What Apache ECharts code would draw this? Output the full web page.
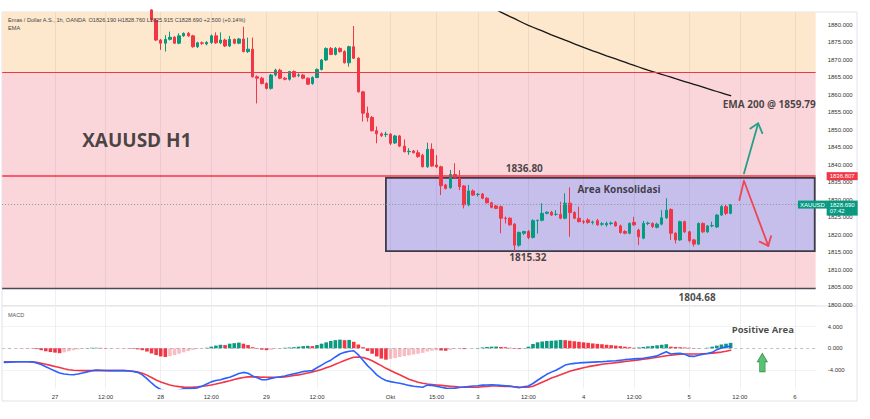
<!DOCTYPE html>
<html><head><meta charset="utf-8">
<script src="https://cdn.jsdelivr.net/npm/echarts@6/dist/echarts.min.js"></script>
<style>html,body{margin:0;padding:0;background:#fff}#chart{width:870px;height:419px}</style>
</head><body><div id="chart"></div>
<script>
// ---------------- DATA ----------------
// hourly slots (0..176); slot 11 = 27 Sep 00:00
const tickSlots  = [11, 22, 34, 45, 57, 68, 84, 94, 103, 114, 126, 137, 149, 160, 172];
const tickLabels = ['27','12:00','28','12:00','29','12:00','Okt','15:00','3','12:00','4','12:00','5','12:00','6'];

const candleStartSlot = 32;
const candleOpen = [1884.3,1881.4,1875.7,1874.8,1875.9,1876.5,1874.8,1876.9,1877.6,1876.9,
1873.8,1874.9,1874.6,1875.0,1876.9,1874.9,1875.7,1874.0,1875.9,1874.8,
1876.0,1872.4,1873.1,1865.2,1864.8,1863.3,1861.9,1865.7,1867.1,1864.8,
1864.5,1866.7,1865.6,1865.7,1864.8,1863.3,1865.0,1867.3,1870.0,1873.3,
1871.6,1873.3,1872.4,1869.2,1873.8,1870.5,1860.9,1854.8,1853.6,1849.8,
1848.9,1848.7,1848.8,1846.3,1848.3,1845.4,1843.8,1844.0,1843.5,1842.8,
1839.5,1844.5,1840.0,1839.5,1834.3,1833.5,1837.3,1836.2,1834.0,1828.6,
1832.6,1831.6,1831.7,1830.5,1829.2,1828.3,1828.1,1824.8,1824.8,1823.1,
1817.1,1820.5,1821.0,1819.3,1824.1,1824.2,1826.2,1826.5,1825.9,1825.9,
1824.8,1829.1,1826.4,1824.8,1823.8,1824.3,1823.6,1824.1,1823.1,1822.9,
1823.3,1823.6,1822.6,1821.0,1820.5,1823.6,1821.4,1819.1,1823.3,1823.3,
1822.2,1823.1,1824.9,1827.3,1820.5,1818.6,1823.8,1820.9,1818.6,1817.4,
1823.3,1820.9,1822.6,1822.3,1825.7,1828.1,1826.19];
const candleHigh = [1884.5,1881.8,1876.0,1877.1,1878.1,1876.8,1877.6,1877.9,1878.0,1877.2,
1875.2,1875.3,1875.4,1877.3,1877.9,1877.9,1876.1,1876.9,1876.1,1876.3,
1879.5,1876.4,1876.4,1865.6,1865.2,1863.6,1866.0,1867.5,1867.5,1865.1,
1866.9,1867.0,1866.2,1866.0,1865.0,1865.3,1867.6,1870.3,1873.6,1873.7,
1873.7,1873.6,1872.8,1874.1,1879.7,1870.8,1861.2,1856.7,1854.0,1851.0,
1849.3,1849.5,1849.1,1848.6,1848.6,1847.3,1844.8,1844.3,1844.3,1843.2,
1846.4,1846.2,1842.8,1839.8,1834.6,1838.6,1840.5,1838.5,1834.3,1834.3,
1833.0,1832.0,1832.0,1830.8,1829.5,1828.6,1828.4,1825.3,1825.1,1823.4,
1821.0,1821.2,1821.4,1824.5,1824.4,1829.1,1826.8,1826.9,1827.1,1829.5,
1831.9,1833.6,1826.8,1828.1,1824.3,1824.8,1824.1,1824.6,1823.7,1823.8,
1823.8,1824.0,1823.0,1821.4,1823.6,1825.2,1821.8,1824.0,1823.8,1823.6,
1823.5,1827.1,1830.5,1827.6,1820.8,1824.1,1824.1,1821.2,1818.9,1823.6,
1823.6,1822.8,1823.8,1826.0,1828.6,1828.7,1828.76];
const candleLow = [1881.0,1875.4,1872.9,1872.4,1875.6,1874.6,1874.5,1876.6,1876.6,1873.5,
1873.4,1874.3,1874.2,1874.6,1874.6,1874.5,1873.7,1873.7,1874.5,1874.5,
1872.2,1872.0,1865.0,1857.6,1863.0,1861.6,1861.5,1865.3,1864.5,1864.2,
1864.1,1865.0,1865.1,1864.5,1862.9,1862.9,1864.8,1867.0,1869.7,1871.4,
1871.3,1872.1,1869.0,1868.1,1870.3,1860.7,1852.4,1852.4,1849.6,1846.2,
1848.0,1848.0,1845.7,1846.0,1845.1,1843.6,1842.9,1843.3,1842.1,1839.3,
1839.2,1839.5,1839.2,1831.4,1833.0,1833.2,1836.2,1832.8,1827.6,1828.2,
1831.2,1831.0,1830.2,1829.0,1827.6,1827.4,1820.5,1823.3,1822.6,1815.4,
1816.6,1820.0,1818.8,1819.0,1820.4,1823.9,1825.9,1825.4,1825.5,1824.5,
1824.5,1819.5,1824.5,1823.6,1823.2,1823.2,1823.0,1822.6,1822.6,1822.4,
1822.8,1822.4,1820.4,1820.2,1820.2,1822.6,1817.1,1818.8,1822.8,1822.0,
1821.9,1822.8,1824.6,1818.6,1817.6,1818.3,1820.6,1817.9,1816.7,1817.1,
1820.6,1820.6,1822.2,1822.0,1825.4,1825.7,1825.915];
const candleClose = [1881.4,1875.7,1874.8,1875.9,1876.5,1874.8,1876.9,1877.6,1876.9,1873.8,
1874.9,1874.8,1875.0,1876.9,1874.9,1875.7,1874.0,1875.9,1874.8,1876.0,
1872.4,1873.1,1865.2,1864.8,1863.3,1861.9,1865.7,1867.1,1864.8,1864.5,
1866.7,1865.2,1865.7,1864.8,1863.1,1865.0,1867.3,1870.0,1873.3,1871.6,
1873.3,1872.4,1869.2,1873.8,1870.5,1860.9,1854.8,1853.6,1849.8,1848.9,
1848.4,1848.8,1846.2,1848.3,1845.4,1843.8,1843.9,1843.5,1842.4,1839.5,
1844.5,1839.7,1839.5,1834.1,1833.3,1837.3,1836.5,1833.8,1828.6,1832.6,
1831.4,1831.6,1830.5,1829.2,1827.9,1827.6,1824.8,1824.7,1822.9,1817.1,
1820.7,1821.0,1819.3,1824.1,1824.2,1826.2,1826.5,1825.7,1825.9,1824.8,
1829.1,1826.4,1824.8,1823.8,1823.7,1823.6,1823.7,1822.9,1823.2,1823.3,
1823.4,1822.6,1820.7,1820.5,1823.3,1822.9,1819.5,1823.3,1823.4,1822.4,
1823.1,1824.9,1827.1,1820.5,1818.6,1823.8,1820.9,1818.4,1817.4,1823.3,
1820.9,1822.6,1822.7,1825.7,1828.1,1826.2,1828.69];

const emaStartSlot = 106;
const ema200 = [1885.0,1884.35,1883.7,1883.05,1882.4,1881.8,1881.15,1880.5,1879.9,
1879.35,1878.8,1878.3,1877.75,1877.2,1876.7,1876.2,1875.65,1875.15,1874.6,
1874.1,1873.6,1873.1,1872.6,1872.15,1871.7,1871.2,1870.75,1870.3,1869.85,
1869.4,1868.9,1868.45,1868.0,1867.55,1867.1,1866.7,1866.3,1865.9,1865.5,
1865.1,1864.65,1864.25,1863.85,1863.45,1863.05,1862.65,1862.25,1861.8,1861.4,
1861.0,1860.6,1860.2,1859.79];

const macdLine = [-2.6,-2.55,-2.5,-2.47,-2.47,-2.47,-2.5,-2.7,-3.0,-3.4,
-3.8,-4.2,-4.55,-4.75,-4.85,-4.87,-4.75,-4.55,-4.35,-4.15,
-4.0,-4.05,-4.1,-4.13,-4.12,-4.12,-4.13,-4.2,-4.28,-4.45,
-4.9,-5.6,-6.4,-7.1,-7.6,-7.9,-8.0,-7.95,-7.7,-7.45,
-7.45,-7.4,-7.3,-7.0,-6.6,-6.2,-5.95,-5.8,-5.55,-5.35,
-5.0,-4.65,-4.45,-4.6,-5.1,-5.45,-5.8,-5.8,-5.55,-5.4,
-5.25,-5.1,-4.9,-4.7,-4.5,-4.3,-4.2,-4.1,-3.6,-3.1,
-2.6,-2.2,-1.6,-1.05,-0.75,-0.55,-0.45,-1.2,-2.2,-3.2,
-4.0,-4.9,-5.5,-5.95,-6.15,-6.3,-6.45,-6.65,-6.85,-7.0,
-7.1,-7.2,-6.8,-6.85,-7.0,-7.2,-7.35,-7.38,-7.35,-7.25,
-7.15,-7.05,-6.95,-6.9,-6.8,-6.77,-6.75,-6.77,-6.85,-6.9,
-6.95,-7.15,-7.27,-7.1,-6.95,-6.5,-5.9,-5.35,-4.8,-4.4,
-4.05,-3.6,-3.1,-2.9,-2.78,-2.7,-2.65,-2.6,-2.55,-2.5,
-2.47,-2.42,-2.35,-2.3,-2.2,-2.1,-2.03,-1.95,-1.9,-1.85,
-1.7,-1.55,-1.4,-1.0,-0.65,-1.05,-0.95,-0.92,-1.1,-1.45,
-1.5,-1.3,-1.1,-0.95,-0.75,-0.25,0.05,0.3,0.35];
const signalLine = [-2.47,-2.47,-2.47,-2.47,-2.47,-2.47,-2.5,-2.6,-2.75,-2.95,
-3.15,-3.35,-3.55,-3.78,-3.97,-4.05,-4.1,-4.13,-4.13,-4.13,
-4.13,-4.13,-4.13,-4.13,-4.13,-4.13,-4.13,-4.15,-4.25,-4.4,
-4.6,-4.95,-5.4,-5.85,-6.2,-6.5,-6.77,-6.95,-7.08,-7.17,
-7.2,-7.17,-7.1,-7.0,-6.9,-6.78,-6.6,-6.4,-6.2,-6.0,
-5.75,-5.55,-5.4,-5.28,-5.24,-5.28,-5.33,-5.35,-5.35,-5.35,
-5.35,-5.28,-5.15,-5.0,-4.9,-4.75,-4.55,-4.35,-4.15,-3.9,
-3.6,-3.3,-2.95,-2.6,-2.25,-1.95,-1.65,-1.6,-1.7,-1.95,
-2.3,-2.75,-3.2,-3.7,-4.1,-4.5,-4.9,-5.3,-5.7,-6.0,
-6.25,-6.45,-6.59,-6.68,-6.77,-6.85,-6.93,-7.0,-7.08,-7.15,
-7.2,-7.2,-7.2,-7.18,-7.1,-7.03,-6.97,-6.95,-6.98,-7.02,
-7.06,-7.1,-7.15,-7.18,-7.2,-7.0,-6.65,-6.25,-5.9,-5.5,
-5.2,-4.9,-4.55,-4.25,-4.0,-3.8,-3.6,-3.39,-3.25,-3.1,
-2.95,-2.85,-2.75,-2.65,-2.55,-2.45,-2.34,-2.24,-2.13,-2.03,
-1.92,-1.8,-1.66,-1.52,-1.38,-1.29,-1.2,-1.1,-1.05,-1.05,
-1.05,-1.04,-1.0,-0.95,-0.9,-0.8,-0.7,-0.55,-0.35];
const macdHist = [0.03,0.03,0.02,-0.02,-0.03,-0.03,-0.05,-0.15,-0.35,-0.55,
-0.7,-0.8,-0.9,-0.75,-0.55,-0.35,-0.2,-0.1,0.05,0.1,
0.1,0.08,0.05,0.03,0.02,-0.02,-0.03,-0.05,-0.1,-0.2,
-0.35,-0.6,-0.95,-1.25,-1.5,-1.6,-1.45,-1.25,-1.0,-0.75,
-0.5,-0.3,-0.15,-0.05,0.1,0.3,0.5,0.65,0.6,0.85,
0.95,1.05,0.85,0.6,0.2,-0.1,-0.25,-0.35,-0.3,-0.1,
0.05,0.1,0.15,0.2,0.3,0.4,0.45,0.4,0.6,0.85,
1.1,1.35,1.5,1.6,1.5,1.55,1.2,0.7,0.2,-0.5,
-1.0,-1.5,-1.9,-2.1,-1.95,-1.8,-1.6,-1.45,-1.3,-1.15,
-1.0,-0.85,-0.6,-0.45,-0.35,-0.4,-0.45,-0.3,-0.15,-0.1,
-0.15,-0.05,0.02,0.05,0.15,0.25,0.3,0.32,0.25,0.2,
0.1,-0.1,-0.15,0.05,0.3,0.8,1.1,1.25,1.35,1.4,
1.45,1.55,1.5,1.4,1.3,1.2,1.1,1.0,0.9,0.82,
0.75,0.65,0.58,0.5,0.4,0.3,0.2,0.1,0.15,0.25,
0.35,0.45,0.55,0.65,0.75,0.3,0.25,0.2,0.15,0.1,
0.05,-0.05,-0.02,0.1,0.3,0.5,0.7,0.85,1.0];

// price levels
const upperZone = 1866.6;
const resistance = 1836.807;
const boxTop = 1836.3;
const boxBottom = 1815.4;
const support = 1804.68;
const lastPrice = 1828.69;
const boxStartSlot = 83;

// ---------------- CHART ----------------
const X0 = -0.5, X1 = 176.5;
const Y0 = 1800, Y1 = 1883.714;
const M0 = -7.42, M1 = 7.62;
const FONT = 'Liberation Sans';
const AFONT = 'Open Sans';
const UP = '#089981', DN = '#f23645';

function histColor(i) {
  const v = macdHist[i], p = i > 0 ? macdHist[i - 1] : v;
  if (v >= 0) return v >= p ? '#0b9981' : '#f23645';
  return v <= p ? '#f23645' : '#f8bcc3';
}

const candleData = candleOpen.map((o, i) => [candleStartSlot + i, o, candleClose[i], candleLow[i], candleHigh[i]]);
const emaData = ema200.map((v, i) => [emaStartSlot + i, v]);
const macdData = macdLine.map((v, i) => [i, v]);
const signalData = signalLine.map((v, i) => [i, v]);
const histData = macdHist.map((v, i) => ({ value: [i, v], itemStyle: { color: histColor(i) } }));

const vGridStyle = { color: 'rgba(42,46,57,0.07)', width: 1, type: 'solid' };
const vGrid = tickSlots.map(s => ({ xAxis: s, lineStyle: vGridStyle }));

const annotations = [
  { text: 'XAUUSD H1', at: [28.8, 1847.1], size: 19 },
  { text: '1836.80', at: [113.1, 1839.0], size: 10 },
  { text: 'Area Konsolidasi', at: [133.7, 1833.1], size: 10 },
  { text: '1815.32', at: [113.9, 1813.7], size: 10 },
  { text: '1804.68', at: [150.7, 1802.3], size: 10 },
  { text: 'EMA 200 @ 1859.79', at: [166.4, 1857.4], size: 10 }
];

function lineSeries(data, color, width, xi, z) {
  return { type: 'line', xAxisIndex: xi, yAxisIndex: xi, data: data, showSymbol: false, symbol: 'none',
    silent: true, z: z, lineStyle: { color: color, width: width, cap: 'round', join: 'round' } };
}

const chart = echarts.init(document.getElementById('chart'), null, { renderer: 'svg' });
chart.setOption({
  animation: false,
  backgroundColor: '#ffffff',
  grid: [
    { left: 2.15, top: 12, width: 813.5, height: 293, outerBoundsMode: 'none', containLabel: false },
    { left: 2.15, top: 307, width: 813.5, height: 81.5, outerBoundsMode: 'none', containLabel: false }
  ],
  xAxis: [
    { type: 'value', gridIndex: 0, min: X0, max: X1, axisLine: { show: false }, axisTick: { show: false },
      axisLabel: { show: false }, splitLine: { show: false } },
    { type: 'value', gridIndex: 1, min: X0, max: X1, axisLine: { show: false }, axisTick: { show: false },
      splitLine: { show: false },
      axisLabel: { show: true, customValues: tickSlots, fontSize: 6, color: '#333', fontFamily: FONT, margin: 5,
        formatter: v => { const k = tickSlots.indexOf(Math.round(v)); return k >= 0 ? tickLabels[k] : ''; } } }
  ],
  yAxis: [
    { type: 'value', gridIndex: 0, position: 'right', min: Y0, max: Y1, interval: 5,
      axisLine: { show: false }, axisTick: { show: false },
      axisLabel: { fontSize: 6, color: '#333', fontFamily: FONT, margin: 12, showMaxLabel: false,
        formatter: v => v.toFixed(3) },
      splitLine: { show: true, lineStyle: { color: 'rgba(42,46,57,0.05)' } } },
    { type: 'value', gridIndex: 1, position: 'right', min: M0, max: M1,
      axisLine: { show: false }, axisTick: { show: false }, splitLine: { show: false },
      axisLabel: { customValues: [-4, 0, 4], fontSize: 6, color: '#333', fontFamily: FONT, margin: 12,
        formatter: v => v.toFixed(3) } }
  ],
  series: [
    // zones, box, levels
    { type: 'line', xAxisIndex: 0, yAxisIndex: 0, data: [], silent: true,
      markArea: { silent: true, data: [
        [{ xAxis: X0, yAxis: upperZone, itemStyle: { color: '#fde8cd' } }, { xAxis: X1, yAxis: Y1 }],
        [{ xAxis: X0, yAxis: support, itemStyle: { color: '#fad6da' } }, { xAxis: X1, yAxis: upperZone }],
        [{ xAxis: boxStartSlot, yAxis: boxBottom, itemStyle: { color: '#c6bfeb', borderColor: '#3d3b4a', borderWidth: 1.8 } },
         { xAxis: 176.3, yAxis: boxTop }]
      ] },
      markLine: { silent: true, symbol: ['none', 'none'], label: { show: false }, data: [
        ...vGrid,
        { yAxis: upperZone, lineStyle: { color: '#f23645', width: 1.2, type: 'solid' } },
        { yAxis: support, lineStyle: { color: '#4a4a55', width: 1.3, type: 'solid' } },
        { yAxis: lastPrice, lineStyle: { color: '#8f94a0', width: 1, type: [1, 2] },
          label: { show: true, position: 'end', distance: 11, offset: [0, 3.5], formatter: '1828.690\n07:42',
            backgroundColor: '#089981', color: '#fff', fontSize: 6, lineHeight: 6.5, fontFamily: FONT, padding: [1, 3, 1, 3], align: 'left' } },
        { yAxis: resistance, lineStyle: { color: '#f23645', width: 1.5, type: 'solid' },
          label: { show: true, position: 'end', distance: 11, formatter: '1836.807',
            backgroundColor: '#f23645', color: '#fff', fontSize: 6, fontFamily: FONT, padding: [1, 3, 1, 3] } }
      ] },
      markPoint: { silent: true, symbolSize: 0, data: [
        { coord: [175.8, lastPrice], label: { show: true, position: 'inside', formatter: 'XAUUSD', color: '#fff',
          backgroundColor: '#089981', fontSize: 6, fontFamily: FONT, padding: [1, 2, 1, 2] } }
      ] } },
    // candles
    { type: 'candlestick', xAxisIndex: 0, yAxisIndex: 0, data: candleData, encode: { x: 0, y: [1, 2, 3, 4] },
      barWidth: 3, clip: true, silent: true, z: 3,
      itemStyle: { color: UP, color0: DN, borderColor: UP, borderColor0: DN, borderWidth: 1 } },
    // EMA 200
    lineSeries(emaData, '#151515', 1.3, 0, 4),
    // arrows
    lineSeries([[160.9, 1837.6], [164.0, 1851.9]], '#22a18a', 1.8, 0, 6),
    lineSeries([[162.3, 1850.4], [164.0, 1851.9], [164.9, 1849.1]], '#22a18a', 1.8, 0, 6),
    lineSeries([[159.9, 1830.0], [160.9, 1835.5], [166.2, 1816.9]], '#ef4655', 1.8, 0, 6),
    lineSeries([[164.3, 1818.1], [166.2, 1816.9], [166.8, 1819.7]], '#ef4655', 1.8, 0, 6),
    // annotation texts
    { type: 'scatter', xAxisIndex: 0, yAxisIndex: 0, silent: true, z: 7, symbolSize: 1,
      itemStyle: { color: 'rgba(0,0,0,0)' },
      label: { show: true, position: 'inside', color: '#1a1a1a', fontFamily: AFONT, fontWeight: 'bold' },
      data: annotations.map(a => ({ value: a.at, label: { formatter: a.text, fontSize: a.size } })) },
    // MACD pane helper lines
    { type: 'line', xAxisIndex: 1, yAxisIndex: 1, data: [], silent: true,
      markLine: { silent: true, symbol: ['none', 'none'], label: { show: false }, data: [
        ...vGrid,
        { yAxis: 4, lineStyle: { color: 'rgba(42,46,57,0.06)', width: 1, type: 'solid' } },
        { yAxis: -4, lineStyle: { color: 'rgba(42,46,57,0.06)', width: 1, type: 'solid' } },
        { yAxis: 0, lineStyle: { color: 'rgba(120,123,134,0.45)', width: 1, type: [3, 3] } }
      ] } },
    { type: 'bar', xAxisIndex: 1, yAxisIndex: 1, data: histData, barWidth: 3.6, silent: true, z: 2 },
    lineSeries(macdData, '#2962ff', 1.6, 1, 4),
    lineSeries(signalData, '#f23645', 1.6, 1, 3),
    { type: 'scatter', xAxisIndex: 1, yAxisIndex: 1, silent: true, z: 7,
      data: [
        { value: [165.0, 3.38], symbolSize: 1, itemStyle: { color: 'rgba(0,0,0,0)' },
          label: { show: true, position: 'inside', formatter: 'Positive Area', color: '#1a1a1a', fontFamily: AFONT, fontWeight: 'bold', fontSize: 9.5 } },
        { value: [164.9, -2.62], symbol: 'path://M5,0 L10,8.4 L7.8,8.4 L7.8,18.4 L2.2,18.4 L2.2,8.4 L0,8.4 Z',
          symbolSize: [10, 18.4], itemStyle: { color: '#2eb34c', borderColor: '#1b7d33', borderWidth: 0.8 } }
      ] }
  ],
  graphic: [
    { type: 'rect', silent: true, z: 0, shape: { x: 2, y: 12, width: 855, height: 389 },
      style: { fill: 'none', stroke: '#e0e3eb', lineWidth: 1 } },
    { type: 'line', silent: true, z: 0, shape: { x1: 2, y1: 306, x2: 857, y2: 306 },
      style: { stroke: '#e0e3eb', lineWidth: 1 } },
    { type: 'text', silent: true, z: 10, left: 8, top: 16.5,
      style: { text: 'Emas / Dollar A.S., 1h, OANDA  O1826.190 H1828.760 L1825.915 C1828.690 +2.500 (+0.14%)',
        fontSize: 5.6, fontFamily: FONT, fill: '#444' } },
    { type: 'text', silent: true, z: 10, left: 8, top: 24.5,
      style: { text: 'EMA', fontSize: 5.6, fontFamily: FONT, fill: '#444' } },
    { type: 'text', silent: true, z: 10, left: 8, top: 311.5,
      style: { text: 'MACD', fontSize: 5.5, fontFamily: FONT, fill: '#555' } }
  ]
});
</script>
</body></html>
